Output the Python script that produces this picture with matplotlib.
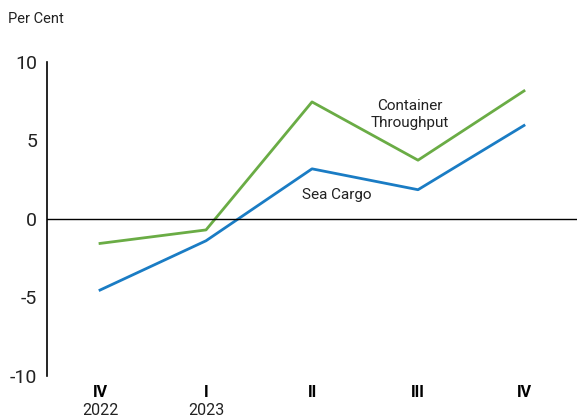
import matplotlib
matplotlib.use("Agg")
import matplotlib.pyplot as plt

quarters = ["IV", "I", "II", "III", "IV"]
years = ["2022", "2023", "", "", ""]
container = [-1.56, -0.7, 7.45, 3.74, 8.15]
sea_cargo = [-4.53, -1.39, 3.19, 1.86, 5.95]
yticks = [-10, -5, 0, 5, 10]

plt.rcParams['font.family'] = ['Roboto', 'DejaVu Sans']

fig = plt.figure(figsize=(5.77, 4.18), dpi=100)
ax = fig.add_axes([0.0815, 0.1005, 0.9185, 0.7515])

x = list(range(len(quarters)))
ax.plot(x, container, color="#6aac45", lw=2)
ax.plot(x, sea_cargo, color="#1a7cc4", lw=2)
ax.axhline(0, color="black", lw=1)

ax.set_xlim(-0.5, 4.5)
ax.set_ylim(-10, 10)
ax.set_yticks(yticks)
ax.set_yticklabels([str(v) for v in yticks], fontsize=14, color="#222222")
ax.tick_params(axis='y', length=0, pad=7)
ax.set_xticks([])
for s in ["top", "right", "bottom"]:
    ax.spines[s].set_visible(False)
ax.spines["left"].set_linewidth(1.2)

for i, (q, yr) in enumerate(zip(quarters, years)):
    ax.text(i, -10.6, q, ha="center", va="top", fontsize=11.5, fontweight="bold",
            transform=ax.transData, clip_on=False)
    if yr:
        ax.text(i, -11.7, yr, ha="center", va="top", fontsize=11.5,
                transform=ax.transData, clip_on=False, color="#222222")

ax.text(2.92, 6.65, "Container\nThroughput", ha="center", va="center", fontsize=11,
        color="#222222", linespacing=1.3)
ax.text(2.23, 1.5, "Sea Cargo", ha="center", va="center", fontsize=11, color="#222222")

fig.text(8 / 577, 1 - 19 / 418, "Per Cent", ha="left", va="center", fontsize=10.5,
         color="#222222")

fig.savefig("out.png", dpi=100)
